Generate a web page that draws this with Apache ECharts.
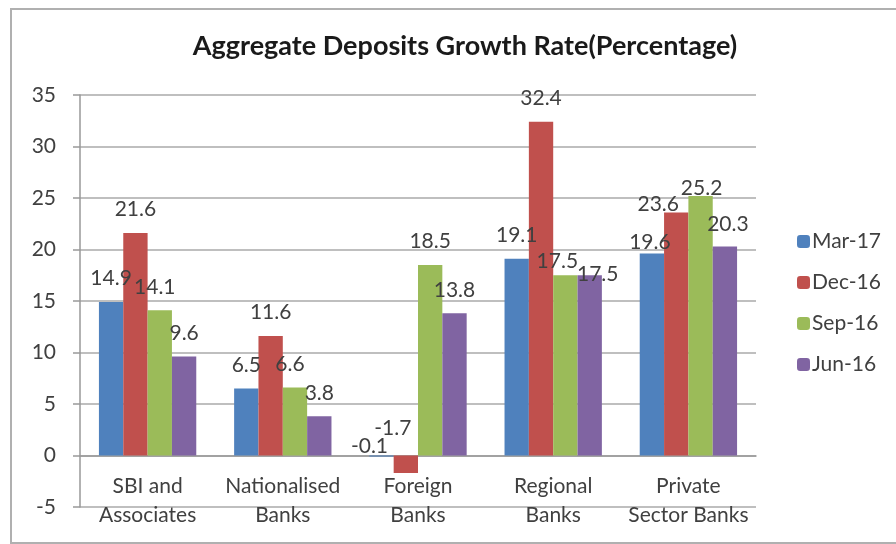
<!DOCTYPE html>
<html><head><meta charset="utf-8">
<script src="https://cdn.jsdelivr.net/npm/echarts@6/dist/echarts.min.js"></script>
<style>html,body{margin:0;padding:0;background:#fff}#c{width:896px;height:544px}</style>
</head><body><div id="c"></div>
<script>
const title = 'Aggregate Deposits Growth Rate(Percentage)';
const categories = ['SBI and\nAssociates', 'Nationalised\nBanks', 'Foreign\nBanks', 'Regional\nBanks', 'Private\nSector Banks'];
const seriesNames = ['Mar-17', 'Dec-16', 'Sep-16', 'Jun-16'];
const mar17 = [14.9, 6.5, -0.1, 19.1, 19.6];
const dec16 = [21.6, 11.6, -1.7, 32.4, 23.6];
const sep16 = [14.1, 6.6, 18.5, 17.5, 25.2];
const jun16 = [9.6, 3.8, 13.8, 17.5, 20.3];
const yTicks = [-5, 0, 5, 10, 15, 20, 25, 30, 35];

const values = [mar17, dec16, sep16, jun16];
const colors = ['#4F81BD', '#C0504D', '#9BBB59', '#8064A2'];
const FONT = 'Lato';
// label nudges (style only), keyed "seriesIndex-categoryIndex" -> [dx, dy] in px
const labelNudges = {
  '0-2': [-12, 14], '1-2': [-13, -4],
  '2-3': [-8, 9], '3-3': [8, 22],
  '0-4': [-2, 12], '1-4': [-18, 15], '2-4': [1, 16], '3-4': [3, 1],
  '2-0': [-5, 0], '2-1': [-5, 0]
};
const chart = echarts.init(document.getElementById('c'), null, {renderer: 'canvas'});
chart.setOption({
  animation: false,
  backgroundColor: '#fff',
  title: {
    text: title, left: 460, top: 28, textAlign: 'center',
    textStyle: {fontFamily: FONT, fontSize: 27, fontWeight: 'bold', color: '#1a1a1a'}
  },
  graphic: [{
    type: 'rect', shape: {x: 11, y: 9, width: 900, height: 534},
    style: {fill: 'none', stroke: '#b0b0b0', lineWidth: 2}, z: -1
  }],
  legend: {
    orient: 'vertical', left: 792, top: 226, itemWidth: 13, itemHeight: 13, itemGap: 20,
    data: seriesNames,
    textStyle: {fontFamily: FONT, fontSize: 21, color: '#404040', padding: [0, 0, 0, -3]}
  },
  grid: {left: 80, right: 140, top: 95, bottom: 37, containLabel: false, outerBoundsMode: 'none'},
  xAxis: {
    type: 'category', data: categories,
    axisLine: {onZero: true, lineStyle: {color: '#999', width: 1.5}},
    axisTick: {show: false},
    axisLabel: {fontFamily: FONT, fontSize: 21, color: '#404040', lineHeight: 29, margin: -35, interval: 0}
  },
  yAxis: {
    type: 'value', min: yTicks[0], max: yTicks[yTicks.length - 1], interval: 5,
    axisLine: {show: true, lineStyle: {color: '#999', width: 1.5}},
    axisTick: {show: true, length: 7, lineStyle: {color: '#999', width: 1.5}},
    axisLabel: {fontFamily: FONT, fontSize: 21, color: '#404040', margin: 24},
    splitLine: {lineStyle: {color: '#aaa', width: 1.5}}
  },
  series: seriesNames.map((name, i) => ({
    name, type: 'bar', barGap: '0%', barCategoryGap: '28%',
    itemStyle: {color: colors[i]},
    label: {show: true, position: 'top', distance: 13, fontFamily: FONT, fontSize: 21, color: '#404040'},
    labelLayout: function (p) {
      const n = labelNudges[i + '-' + p.dataIndex];
      return n ? {dx: n[0], dy: n[1]} : {};
    },
    data: values[i]
  }))
});
</script></body></html>
